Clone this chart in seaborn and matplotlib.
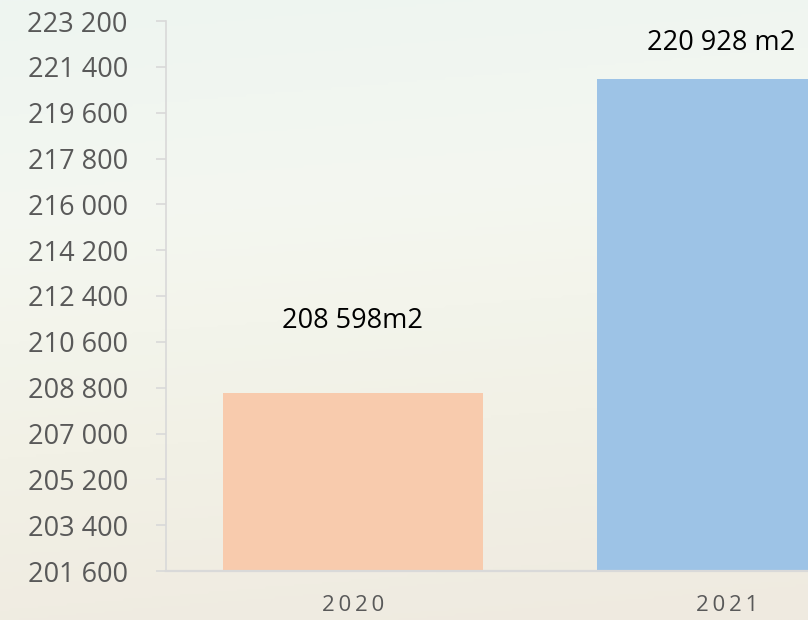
import numpy as np
import seaborn as sns
from matplotlib import pyplot as plt
from matplotlib.colors import LinearSegmentedColormap
from matplotlib.ticker import FuncFormatter

# 数据
years = ['2020', '2021']
area = [208598, 220928]
labels = ['208 598m2', '220 928 m2']
bar_colors = ['#F8CBAD', '#9DC3E6']

sns.set_theme(style='white')
plt.rcParams['font.family'] = ['Open Sans', 'DejaVu Sans']

fig = plt.figure(figsize=(8.08, 6.2), dpi=100)

# 背景渐变（上浅绿白 -> 下米色）
bg = fig.add_axes([0, 0, 1, 1], zorder=-10)
cmap_bg = LinearSegmentedColormap.from_list('', ['#EEF5F1', '#F4F7F0', '#F2F1E6', '#EFEAE0'])
yy = np.linspace(0, 1, 256).reshape(-1, 1)
xx = np.linspace(0, 1, 256).reshape(1, -1)
grad = np.clip(yy * 0.9 + xx * 0.1, 0, 1)
bg.imshow(grad, cmap=cmap_bg, aspect='auto', extent=[0, 1, 0, 1], origin='upper')
bg.axis('off')

ax = fig.add_axes([166 / 808, (620 - 571) / 620, (808 - 166) / 808, (571 - 21) / 620])
ax.patch.set_alpha(0)

sns.barplot(x=years, y=area, hue=years, palette=bar_colors, width=0.695,
            legend=False, saturation=1, linewidth=0, ax=ax)

ax.set_ylim(201600, 223200)
ax.set_xlim(-0.5, 1.2166)
ax.set_yticks(np.arange(201600, 223201, 1800))
ax.yaxis.set_major_formatter(FuncFormatter(lambda v, p: f'{int(v):,}'.replace(',', ' ')))

for s in ['top', 'right']:
    ax.spines[s].set_visible(False)
ax.spines['left'].set_color('#D9D9D9')
ax.spines['bottom'].set_color('#D9D9D9')
ax.spines['left'].set_linewidth(1.2)
ax.spines['bottom'].set_linewidth(1.6)

ax.tick_params(axis='y', length=7.5, width=1.2, color='#D9D9D9', labelsize=19.5,
               labelcolor='#595959', pad=20, left=True)
ax.tick_params(axis='x', length=0, labelsize=16, labelcolor='#595959', pad=17)
ax.set_xticks(range(len(years)))
ax.set_xticklabels(['\u2009'.join(y) for y in years])

# 数值标签
offsets = [52, 26]
for i, (v, t) in enumerate(zip(area, labels)):
    ax.annotate(t, xy=(i, v), xytext=(-4 * i, offsets[i]), textcoords='offset points',
                ha='center', va='center', fontsize=19.5, color='black', annotation_clip=False)

plt.savefig('out.png', dpi=100)
